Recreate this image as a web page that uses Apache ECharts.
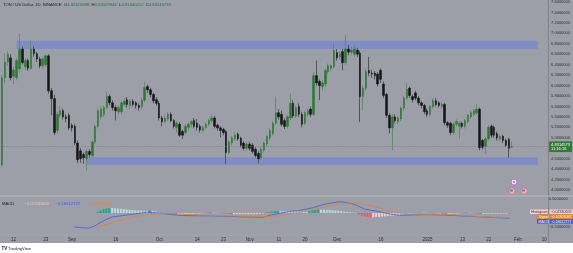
<!DOCTYPE html>
<html><head><meta charset="utf-8">
<script src="https://cdn.jsdelivr.net/npm/echarts@6/dist/echarts.min.js"></script>
<style>html,body{margin:0;padding:0;background:#9c9ea8}#c{width:573px;height:253px}</style>
</head><body><div id="c"></div>
<script>
// ---- data ----
const startDate = [2024, 7, 8];   // 8 Aug 2024, daily
const dayCount = 188;
// [open, close, low, high]
const candles = [
[4.48,6.15,4.45,6.20],[6.15,6.45,6.05,6.62],[6.45,6.60,6.38,6.66],[6.53,6.15,6.10,6.60],[6.18,6.30,6.03,6.36],
[6.15,6.48,6.10,6.52],[6.32,6.70,6.25,6.99],[6.70,6.44,6.40,6.75],[6.36,6.48,6.30,6.52],[6.48,6.33,6.28,6.52],
[6.33,6.70,6.30,6.86],[6.70,6.61,6.55,6.75],[6.61,6.51,6.45,6.65],[6.51,6.38,6.33,6.55],[6.38,6.51,6.33,6.55],
[6.40,6.57,6.36,6.60],[6.57,5.90,5.85,6.60],[5.90,5.75,5.43,5.95],[5.75,5.10,5.05,5.82],[5.14,5.45,5.08,5.50],
[5.43,5.52,5.38,5.62],[5.52,5.40,5.35,5.56],[5.40,5.37,5.30,5.45],[5.43,5.19,5.15,5.47],[5.24,5.19,5.12,5.28],
[5.22,4.90,4.86,5.26],[4.90,4.58,4.52,4.95],[4.75,4.60,4.52,4.80],[4.68,4.62,4.50,4.72],[4.60,4.74,4.38,4.78],
[4.74,4.68,4.62,4.78],[4.66,4.92,4.62,4.95],[4.92,5.22,4.88,5.25],[5.22,5.52,5.18,5.56],[5.40,5.55,5.35,5.60],
[5.45,5.58,5.40,5.62],[5.58,5.79,5.55,5.88],[5.79,5.67,5.62,5.83],[5.67,5.58,5.52,5.72],[5.58,5.52,5.33,5.62],
[5.50,5.58,5.45,5.62],[5.50,5.67,5.45,5.70],[5.64,5.70,5.60,5.76],[5.73,5.64,5.58,5.78],[5.62,5.70,5.55,5.74],
[5.70,5.64,5.60,5.74],[5.67,5.62,5.56,5.70],[5.62,5.58,5.52,5.66],[5.60,5.72,5.55,5.76],[5.72,5.96,5.68,6.07],
[5.98,5.92,5.86,6.02],[5.92,5.83,5.78,5.96],[5.83,5.71,5.66,5.86],[5.73,5.66,5.62,5.78],[5.66,5.38,5.33,5.70],
[5.38,5.31,5.22,5.42],[5.31,5.38,5.28,5.42],[5.36,5.45,5.32,5.49],[5.45,5.33,5.30,5.49],[5.33,5.22,5.18,5.36],
[5.20,5.28,5.10,5.32],[5.26,5.05,5.02,5.30],[5.12,5.05,4.98,5.16],[5.10,5.22,5.06,5.26],[5.20,5.26,5.14,5.29],
[5.26,5.31,5.20,5.34],[5.33,5.22,5.18,5.38],[5.28,5.20,5.14,5.36],[5.22,5.15,5.10,5.26],[5.14,5.20,5.10,5.24],
[5.20,5.26,5.16,5.30],[5.26,5.33,5.22,5.37],[5.33,5.38,5.28,5.44],[5.38,5.22,5.18,5.42],[5.24,5.19,5.14,5.27],
[5.19,5.14,5.01,5.22],[5.16,5.10,5.05,5.19],[5.12,4.72,4.50,5.15],[4.72,4.92,4.68,4.96],[4.90,5.00,4.86,5.04],
[4.98,5.05,4.94,5.10],[5.07,4.98,4.94,5.10],[4.99,4.86,4.82,5.02],[4.90,4.80,4.76,4.93],[4.80,4.88,4.76,4.92],
[4.88,4.80,4.76,4.92],[4.86,4.74,4.70,4.90],[4.78,4.66,4.62,4.82],[4.70,4.60,4.51,4.74],[4.62,4.78,4.58,4.82],
[4.76,4.90,4.72,4.93],[4.88,5.03,4.84,5.06],[5.00,5.14,4.96,5.18],[5.08,5.28,5.05,5.32],[5.28,5.48,5.24,5.79],
[5.48,5.40,5.35,5.55],[5.45,5.26,5.22,5.52],[5.33,5.22,5.17,5.37],[5.22,5.40,5.18,5.44],[5.38,5.66,5.34,5.85],
[5.66,5.42,5.38,5.72],[5.42,5.58,5.38,5.62],[5.60,5.45,5.40,5.66],[5.45,5.26,5.20,5.50],[5.28,5.48,5.24,5.52],
[5.45,5.52,5.40,5.56],[5.55,5.45,5.40,5.60],[5.45,6.19,5.42,6.25],[6.19,6.05,6.00,6.48],[6.08,6.00,5.72,6.12],
[5.98,6.05,5.90,6.10],[6.03,6.29,5.98,6.33],[6.26,6.38,6.22,6.42],[6.33,6.38,6.28,6.42],[6.36,6.67,6.32,6.82],
[6.63,6.53,6.48,6.70],[6.55,6.61,6.50,6.66],[6.65,6.44,6.29,6.70],[6.44,6.70,6.40,6.97],[6.70,6.64,6.58,6.78],
[6.64,6.68,6.58,6.74],[6.60,6.70,6.55,6.76],[6.68,6.60,6.55,6.72],[6.62,5.79,5.30,6.66],[5.79,5.95,5.52,6.00],
[5.95,6.27,5.90,6.32],[6.29,6.24,6.18,6.55],[6.24,6.22,6.15,6.30],[6.24,6.19,6.12,6.28],[6.22,6.03,5.98,6.26],
[6.29,6.12,6.05,6.33],[6.03,5.81,5.76,6.08],[5.83,5.43,5.38,5.86],[5.43,5.19,5.09,5.47],[5.19,5.40,4.76,5.45],
[5.40,5.33,5.28,5.45],[5.31,5.38,5.26,5.42],[5.36,5.57,5.32,5.60],[5.57,5.76,5.52,5.80],[5.76,5.93,5.72,6.05],
[5.95,5.81,5.76,5.98],[5.79,5.73,5.68,5.83],[5.86,5.76,5.72,5.90],[5.76,5.67,5.62,5.80],[5.67,5.62,5.57,5.70],
[5.62,5.50,5.45,5.65],[5.52,5.45,5.40,5.56],[5.45,5.60,5.40,5.63],[5.60,5.71,5.56,5.75],[5.71,5.64,5.60,5.76],
[5.67,5.62,5.58,5.70],[5.60,5.64,5.56,5.68],[5.64,5.29,5.24,5.67],[5.29,5.24,5.19,5.32],[5.28,5.10,5.05,5.31],
[5.10,5.26,5.06,5.30],[5.26,5.31,5.22,5.35],[5.22,5.28,4.99,5.32],[5.28,5.22,5.18,5.31],[5.22,5.33,5.18,5.36],
[5.31,5.43,5.27,5.46],[5.40,5.48,5.36,5.52],[5.45,5.52,5.41,5.55],[5.48,5.55,5.44,5.64],[5.55,4.81,4.76,5.58],
[4.95,4.82,4.78,4.98],[4.84,4.98,4.70,5.01],[4.98,5.20,4.95,5.24],[5.22,5.05,5.00,5.26],[5.20,5.05,5.00,5.24],
[5.08,5.00,4.95,5.12],[4.98,5.03,4.94,5.06],[5.03,4.95,4.90,5.06],[4.95,4.86,4.82,4.98],[4.97,4.80,4.62,5.00],
[4.82,4.83,4.81,4.93]
];
// MACD (12,26,close): [day index, value]
const macdLine = [[25,-0.50],[28,-0.53],[30,-0.54],[32,-0.46],[35,-0.28],[38,-0.14],[41,-0.10],[45,-0.05],[50,0.03],
[54,0.00],[58,-0.05],[62,-0.09],[68,-0.10],[72,-0.10],[78,-0.12],[84,-0.14],[90,-0.15],[93,-0.07],[96,0.00],[99,0.05],
[102,0.08],[107,0.18],[111,0.31],[116,0.40],[118,0.39],[122,0.29],[125,0.14],[130,0.05],[134,-0.04],[137,-0.08],
[141,-0.07],[146,-0.06],[152,-0.07],[158,-0.10],[164,-0.13],[170,-0.16],[175,-0.186]];
const signalLine = [[33,-0.49],[37,-0.38],[40,-0.28],[43,-0.19],[47,-0.11],[52,-0.04],[56,-0.02],[60,-0.03],[64,-0.05],
[68,-0.07],[74,-0.09],[80,-0.11],[86,-0.12],[91,-0.13],[95,-0.10],[99,-0.04],[102,0.01],[106,0.08],[111,0.21],[116,0.32],
[120,0.36],[123,0.36],[126,0.28],[130,0.18],[134,0.07],[137,0.00],[141,-0.04],[147,-0.05],[153,-0.05],[158,-0.08],
[164,-0.12],[170,-0.15],[175,-0.163]];
const histStart = 33;
const histogram = [0.04,0.09,0.13,0.16,0.18,0.18,0.17,0.16,0.15,0.14,0.13,0.12,0.11,0.10,0.09,0.09,0.08,0.08,0.09,0.08,
0.06,0.03,0.01,-0.01,-0.02,-0.03,-0.04,-0.05,-0.05,-0.05,-0.04,-0.04,-0.03,-0.03,-0.02,-0.02,-0.01,0.00,0.01,0.02,
0.02,0.01,0.00,-0.01,-0.02,-0.03,-0.04,-0.04,-0.04,-0.04,-0.04,-0.04,-0.04,-0.04,-0.04,-0.04,-0.03,-0.02,0.01,0.03,
0.05,0.07,0.08,0.08,0.07,0.07,0.07,0.07,0.06,0.06,0.05,0.05,0.05,0.07,0.10,0.11,0.12,0.12,0.12,0.11,
0.11,0.10,0.09,0.08,0.07,0.05,0.04,0.03,0.02,0.01,-0.05,-0.09,-0.12,-0.14,-0.15,-0.15,-0.14,-0.14,-0.13,-0.12,
-0.11,-0.10,-0.09,-0.08,-0.07,-0.05,-0.04,-0.03,-0.02,-0.01,0.00,0.01,0.01,0.01,0.00,0.00,-0.01,-0.01,-0.01,-0.02,
-0.03,-0.03,-0.03,-0.02,-0.02,-0.01,0.00,0.01,0.01,0.01,0.00,-0.02,-0.03,-0.03,-0.03,-0.02,-0.02,-0.02,-0.02,-0.02,
-0.02,-0.02,-0.023];
const zoneTop = {from: 5, to: 184, lo: 6.70, hi: 6.86};
const zoneBottom = {from: 29, to: 184, lo: 4.48, hi: 4.63};
const lastPrice = 4.83;
const timeLabels = {'2024-08-12':'12','2024-08-23':'23','2024-09-01':'Sep','2024-09-16':'16','2024-10-01':'Oct',
'2024-10-14':'14','2024-10-23':'23','2024-11-01':'Nov','2024-11-11':'11','2024-11-20':'20','2024-12-01':'Dec',
'2024-12-16':'16','2025-01-01':'2025','2025-01-13':'13','2025-01-22':'22','2025-02-01':'Feb','2025-02-10':'10'};

// ---- build ----
const dates = [];
for (let k = 0; k < dayCount; k++) {
  const d = new Date(Date.UTC(startDate[0], startDate[1], startDate[2] + k));
  dates.push(d.toISOString().slice(0, 10));
}
const bodies = candles.map(r => [r[0], r[1], Math.min(r[0], r[1]), Math.max(r[0], r[1])]);
const histData = dates.map((d, k) => (k >= histStart && k - histStart < histogram.length) ? histogram[k - histStart] : null);
const FONT = '"Liberation Sans", Arial, sans-serif';
const W = 548;

const chart = echarts.init(document.getElementById('c'), null, {renderer: 'canvas'});
const hideX = (g) => ({type: 'category', gridIndex: g, data: dates, boundaryGap: true,
  axisLine: {show: false}, axisTick: {show: false}, axisLabel: {show: false}, splitLine: {show: false}});

chart.setOption({
  animation: false,
  backgroundColor: '#9c9ea8',
  grid: [
    {left: 0.5, width: W, top: 0, height: 200.5},
    {left: 0.5, width: W, top: 185, height: 56},
    {left: 0.5, width: W, top: 230, height: 5}
  ],
  xAxis: [hideX(0), hideX(1), {
    type: 'category', gridIndex: 2, data: dates, boundaryGap: true,
    axisLine: {show: false}, axisTick: {show: false}, splitLine: {show: false},
    axisLabel: {show: true, margin: 2.5, fontSize: 4.5, color: '#2b2b30', fontFamily: FONT,
      interval: (i, v) => timeLabels[v] !== undefined, formatter: v => timeLabels[v] || ''}
  }],
  yAxis: [
    {type: 'value', gridIndex: 0, position: 'right', min: 3.8, max: 7.619, interval: 0.2,
      axisLine: {show: false}, axisTick: {show: false}, splitLine: {show: false},
      axisLabel: {margin: 3, fontSize: 4, color: '#2f2f35', fontFamily: FONT, showMaxLabel: false,
        formatter: v => (v < 3.95 || v > 7.61) ? '' : v.toFixed(7)}},
    {type: 'value', gridIndex: 1, position: 'right', min: -1, max: 1, interval: 0.5,
      axisLine: {show: false}, axisTick: {show: false}, splitLine: {show: false},
      axisLabel: {margin: 3, fontSize: 4, color: '#2f2f35', fontFamily: FONT,
        formatter: v => Math.abs(Math.abs(v) - 0.5) < 1e-9 ? (v < 0 ? '\u22120.5000000' : '0.5000000') : ''}},
    {type: 'value', gridIndex: 2, show: false}
  ],
  series: [
    {type: 'line', xAxisIndex: 0, yAxisIndex: 0, data: [], silent: true, z: 1,
      markArea: {silent: true, itemStyle: {color: '#7e8ec4', opacity: 1},
        data: [
          [{xAxis: dates[zoneTop.from], yAxis: zoneTop.hi}, {xAxis: dates[zoneTop.to], yAxis: zoneTop.lo}],
          [{xAxis: dates[zoneBottom.from], yAxis: zoneBottom.hi}, {xAxis: dates[zoneBottom.to], yAxis: zoneBottom.lo}]
        ]}},
    {type: 'candlestick', xAxisIndex: 0, yAxisIndex: 0, data: candles, barWidth: 0.8, z: 3, silent: true,
      itemStyle: {color: '#5e8d62', color0: '#4b4c52', borderColor: '#5e8d62', borderColor0: '#4b4c52', borderWidth: 0.9}},
    {type: 'candlestick', xAxisIndex: 0, yAxisIndex: 0, data: bodies, barWidth: 2, z: 4, silent: true,
      itemStyle: {color: '#2c7a32', color0: '#151517', borderColor: '#2c7a32', borderColor0: '#151517', borderWidth: 0.5},
      markLine: {silent: true, symbol: 'none', animation: false,
        lineStyle: {type: [1, 2], color: '#6f717a', width: 0.8},
        label: {show: true, position: 'end', distance: 1, formatter: '4.8314573\n11:16:16',
          backgroundColor: '#2e7d32', color: '#ffffff', fontSize: 4, lineHeight: 4.6, padding: [1, 2, 0.5, 2], fontFamily: FONT},
        data: [{yAxis: lastPrice}]}},
    {type: 'bar', xAxisIndex: 1, yAxisIndex: 1, data: histData, barWidth: 2, z: 2, silent: true,
      itemStyle: {color: p => {
        const k = p.dataIndex, v = p.value, prev = histData[k - 1];
        const grow = prev == null ? true : (v >= 0 ? v > prev : v < prev);
        return v >= 0 ? (grow ? '#23a08e' : '#b4dcd8') : (grow ? '#f25555' : '#f6c9cd');
      }}},
    {type: 'line', xAxisIndex: 1, yAxisIndex: 1, data: macdLine, symbol: 'none', silent: true, z: 5,
      lineStyle: {color: '#3a5fe2', width: 0.8}},
    {type: 'line', xAxisIndex: 1, yAxisIndex: 1, data: signalLine, symbol: 'none', silent: true, z: 5,
      lineStyle: {color: '#e5823a', width: 0.8}}
  ],
  graphic: [
    {type: 'line', z: 50, shape: {x1: 548.5, y1: 0, x2: 548.5, y2: 243}, style: {stroke: '#82848c', lineWidth: 1}},
    {type: 'line', z: 50, shape: {x1: 0, y1: 196, x2: 573, y2: 196}, style: {stroke: '#b9bbc1', lineWidth: 1}},
    {type: 'line', z: 50, shape: {x1: 0, y1: 235, x2: 548, y2: 235}, style: {stroke: '#a9abb2', lineWidth: 0.6}},
    {type: 'rect', z: 50, shape: {x: 0, y: 243, width: 573, height: 10}, style: {fill: '#ffffff'}},
    {type: 'text', z: 60, x: 1.5, y: 246.5, style: {text: 'TV', font: 'bold 4.5px ' + FONT, fill: '#131722'}},
    {type: 'text', z: 60, x: 8, y: 246.8, style: {text: 'TradingView', font: '4.2px ' + FONT, fill: '#131722'}},
    {type: 'text', z: 60, x: 3, y: 3, style: {
      text: '{b|TON / US Dollar, 1D, BINANCE  O}{g|4.82320588}{b|  H}{g|4.93320946}{b|  L}{g|4.81440212}{b|  C}{g|4.83145730}',
      rich: {b: {fill: '#1e1e22', fontSize: 4.2, fontFamily: FONT}, g: {fill: '#1f7a30', fontSize: 4.2, fontFamily: FONT}}}},
    {type: 'text', z: 60, x: 2, y: 197.5, style: {
      text: '{b|MACD}   {p|\u22120.02330659}  {u|\u22120.18612727}  {o|\u22120.16303082}',
      rich: {b: {fill: '#1e1e22', fontSize: 4.2, fontFamily: FONT}, p: {fill: '#f3c3c6', fontSize: 4.2, fontFamily: FONT},
        u: {fill: '#3a5fe2', fontSize: 4.2, fontFamily: FONT}, o: {fill: '#e5823a', fontSize: 4.2, fontFamily: FONT}}}},
    // right-side value tags of the MACD pane
    {type: 'rect', z: 60, shape: {x: 530, y: 209.5, width: 18, height: 4.5}, style: {fill: '#f6cfd2'}},
    {type: 'text', z: 61, x: 531, y: 210, style: {text: 'Histogram', font: '3.6px ' + FONT, fill: '#333'}},
    {type: 'rect', z: 60, shape: {x: 549.5, y: 209.5, width: 23.5, height: 4.5}, style: {fill: '#f6cfd2'}},
    {type: 'text', z: 61, x: 550.5, y: 210, style: {text: '\u22120.02330659', font: '3.6px ' + FONT, fill: '#333'}},
    {type: 'rect', z: 60, shape: {x: 537, y: 214.3, width: 11, height: 4.5}, style: {fill: '#f07c1a'}},
    {type: 'text', z: 61, x: 538.5, y: 214.8, style: {text: 'Signal', font: '3.6px ' + FONT, fill: '#fff'}},
    {type: 'rect', z: 60, shape: {x: 549.5, y: 214.3, width: 23.5, height: 4.5}, style: {fill: '#f07c1a'}},
    {type: 'text', z: 61, x: 550.5, y: 214.8, style: {text: '\u22120.16303082', font: '3.6px ' + FONT, fill: '#fff'}},
    {type: 'rect', z: 60, shape: {x: 537, y: 219.1, width: 11, height: 4.5}, style: {fill: '#2f5ee8'}},
    {type: 'text', z: 61, x: 538.5, y: 219.6, style: {text: 'MACD', font: '3.6px ' + FONT, fill: '#fff'}},
    {type: 'rect', z: 60, shape: {x: 549.5, y: 219.1, width: 23.5, height: 4.5}, style: {fill: '#2f5ee8'}},
    {type: 'text', z: 61, x: 550.5, y: 219.6, style: {text: '\u22120.18612727', font: '3.6px ' + FONT, fill: '#fff'}},
    // event markers
    {type: 'circle', z: 60, shape: {cx: 514, cy: 182, r: 3}, style: {fill: '#efe2f6', stroke: '#a865cf', lineWidth: 0.8}},
    {type: 'circle', z: 61, shape: {cx: 514, cy: 182, r: 1}, style: {fill: '#a865cf'}},
    {type: 'circle', z: 60, shape: {cx: 512, cy: 191, r: 3.2}, style: {fill: '#f3b4b6', stroke: '#e06a6e', lineWidth: 0.8}},
    {type: 'rect', z: 61, shape: {x: 510, y: 189.5, width: 3, height: 2}, style: {fill: '#5a7fd0'}},
    {type: 'circle', z: 60, shape: {cx: 524, cy: 191, r: 3.2}, style: {fill: '#f3b4b6', stroke: '#e06a6e', lineWidth: 0.8}},
    {type: 'rect', z: 61, shape: {x: 522, y: 189.5, width: 3, height: 2}, style: {fill: '#5a7fd0'}}
  ]
});
</script></body></html>
